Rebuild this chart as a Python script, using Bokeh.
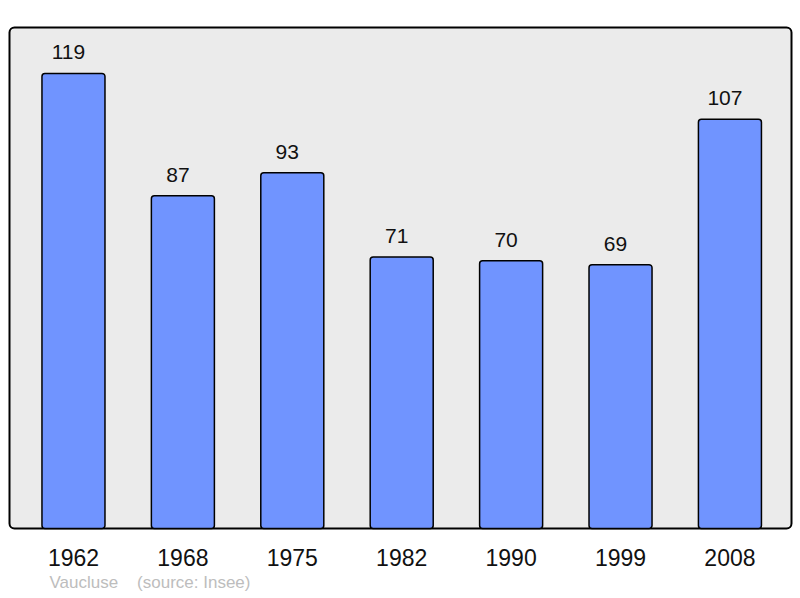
from bokeh.plotting import figure
from bokeh.models import Range1d, FixedTicker, BoxAnnotation, Title, ColumnDataSource
from bokeh.core.properties import value
from bokeh.embed import file_html
from bokeh.resources import INLINE

years = ["1962", "1968", "1975", "1982", "1990", "1999", "2008"]
population = [119, 87, 93, 71, 70, 69, 107]
source_text = "Vaucluse\u00a0\u00a0\u00a0\u00a0(source: Insee)"

idx = list(range(len(years)))
src = ColumnDataSource(dict(x=idx, top=population, label=[str(v) for v in population]))

p = figure(width=800, height=598, output_backend="svg", toolbar_location=None,
           x_range=Range1d(-0.603, 6.581), y_range=Range1d(-0.523, 131.54),
           min_border_left=7, min_border_right=7, min_border_top=25, min_border_bottom=68)
p.outline_line_color = None
p.background_fill_color = "white"
p.border_fill_color = "white"
p.grid.visible = False
p.yaxis.visible = False

box = BoxAnnotation(left=9, right=791, top=27, bottom=528,
                    left_units="canvas", right_units="canvas", top_units="canvas", bottom_units="canvas",
                    fill_color="#ebebeb", fill_alpha=1, line_color="black", line_alpha=1, line_width=2,
                    border_radius=5, level="underlay")
p.add_layout(box)

p.vbar(x="x", top="top", width=0.576, bottom=0, source=src, fill_color="#7094ff",
       line_color="black", line_width=1.5, border_radius=3)
p.text(x="x", y="top", text="label", source=src, text_align="center", text_baseline="alphabetic",
       x_offset=-5, y_offset=-21, text_font=value("Liberation Sans"), text_font_size="21px",
       text_color="#111111")

ax = p.xaxis[0]
ax.ticker = FixedTicker(ticks=idx)
ax.major_label_overrides = {i: y for i, y in zip(idx, years)}
ax.axis_line_color = None
ax.major_tick_line_color = None
ax.minor_tick_line_color = None
ax.major_tick_out = 0
ax.major_tick_in = 0
ax.major_label_standoff = 18
ax.major_label_text_font = "Liberation Sans"
ax.major_label_text_font_size = "23px"
ax.major_label_text_color = "#111111"

t = Title(text=source_text, align="left", offset=42, text_font="Liberation Sans",
          text_font_size="17px", text_color="#bdbdbd", text_font_style="normal", standoff=4)
p.add_layout(t, "below")

open("out.html", "w").write(file_html(p, INLINE))
